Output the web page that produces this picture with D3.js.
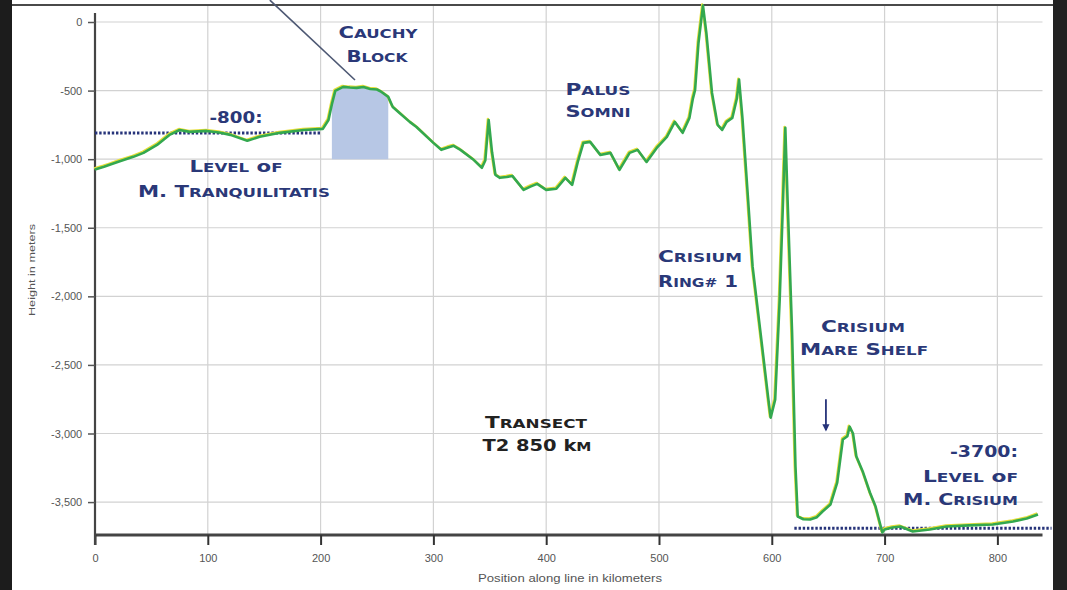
<!DOCTYPE html>
<html>
<head>
<meta charset="utf-8">
<script src="https://cdn.jsdelivr.net/npm/d3@7/dist/d3.min.js"></script>
<style>
  html, body { margin: 0; padding: 0; background: #fff; }
  svg { display: block; }
</style>
</head>
<body>
<svg id="chart" width="1067" height="590"></svg>
<script>
// ---------- data ----------
const positionsKm = [0, 8, 13, 22, 34, 43, 55, 66, 75, 84, 99, 110, 120, 135, 146, 164, 185, 202, 207, 210, 213, 220, 226, 232, 238, 244, 250, 254, 260, 264, 270, 279, 285, 300, 307, 313, 318, 324, 335, 343, 346, 349, 352, 355, 359, 365, 370, 380, 386, 392, 400, 409, 417, 423, 428, 433, 439, 448, 457, 465, 474, 481, 489, 498, 507, 514, 521, 527, 530, 532, 535, 539, 542, 547, 552, 556, 560, 565, 569, 571, 574, 579, 583, 590, 597, 599, 603, 607, 610, 612, 614, 618, 621, 623, 628, 634, 640, 645, 652, 658, 663, 667, 669, 672, 675, 681, 687, 692, 698, 700, 707, 714, 725, 740, 755, 775, 796, 814, 826, 836];
const heightsM = [-1075, -1055, -1041, -1015, -983, -954, -896, -823, -787, -801, -794, -805, -823, -866, -837, -808, -787, -779, -714, -600, -502, -473, -478, -480, -474, -488, -492, -510, -546, -619, -663, -728, -765, -881, -932, -915, -903, -932, -1000, -1063, -1010, -714, -950, -1114, -1136, -1130, -1122, -1224, -1200, -1180, -1224, -1216, -1136, -1187, -1020, -881, -874, -969, -954, -1078, -954, -932, -1020, -918, -838, -728, -808, -699, -560, -495, -153, 120, -80, -517, -750, -787, -728, -699, -560, -420, -700, -1296, -1784, -2265, -2753, -2884, -2753, -2025, -1296, -772, -1296, -2265, -3241, -3605, -3625, -3627, -3610, -3569, -3518, -3358, -3044, -3020, -2950, -3000, -3168, -3285, -3430, -3532, -3722, -3700, -3685, -3678, -3714, -3700, -3678, -3670, -3663, -3641, -3620, -3590];

const xTicks = [0, 100, 200, 300, 400, 500, 600, 700, 800];
const yTicks = [0, -500, -1000, -1500, -2000, -2500, -3000, -3500];

// reference levels
const levelTranquilitatis = { value: -810, from: 0, to: 201 };
const levelCrisium = { value: -3690, from: 620, to: 848 };
// Cauchy block shaded span
const cauchyBlock = { from: 208, to: 262, base: -1000 };
// pointer line toward Cauchy block (data coords)
const pointerLine = [[155, 160], [230.5, -423]];
// arrow toward mare shelf
const shelfArrow = [[648, -2750], [648, -2975]];

// ---------- scales ----------
const svg = d3.select('#chart');
const x = d3.scaleLinear().domain([0, 840]).range([95, 1042.5]);
const y = d3.scaleLinear().domain([-3740, 124]).range([535, 5]);

const root = svg.append('g');

// frame pieces
root.append('rect').attr('x', 0).attr('y', 0).attr('width', 12).attr('height', 590).attr('fill', '#1c1c1c');
root.append('rect').attr('x', 1053).attr('y', 0).attr('width', 14).attr('height', 590).attr('fill', '#222');

// grid
const grid = root.append('g');
grid.selectAll('line.h').data(yTicks).join('line')
  .attr('x1', x(0)).attr('x2', x(840)).attr('y1', d => y(d)).attr('y2', d => y(d))
  .attr('stroke', '#d2d2d2').attr('stroke-width', 1.2);
grid.selectAll('line.v').data(xTicks.slice(1)).join('line')
  .attr('x1', d => x(d)).attr('x2', d => x(d)).attr('y1', y(124)).attr('y2', y(-3740))
  .attr('stroke', '#d2d2d2').attr('stroke-width', 1.2);

// top border line
root.append('line').attr('x1', 12).attr('x2', 1053).attr('y1', 5).attr('y2', 5)
  .attr('stroke', '#4a4a4a').attr('stroke-width', 2);

// Cauchy block shading
const blockPts = positionsKm.map((k, i) => [k, heightsM[i]]).filter(p => p[0] >= cauchyBlock.from && p[0] <= cauchyBlock.to);
root.append('path')
  .datum(blockPts)
  .attr('d', d3.area().x(d => x(d[0])).y0(y(cauchyBlock.base)).y1(d => y(d[1])))
  .attr('fill', '#b7c7e5');

// axes
const xAxis = d3.axisBottom(x).tickValues(xTicks).tickSize(10).tickFormat(d3.format('d'));
const gx = root.append('g').attr('transform', `translate(0,${y(-3740)})`).call(xAxis);
gx.select('.domain').attr('stroke', '#444').attr('stroke-width', 3).attr('d', `M${x(0)},0H${x(840)}`);
gx.selectAll('.tick line').attr('stroke', '#333').attr('stroke-width', 2);
gx.selectAll('.tick text').attr('fill', '#555').attr('font-family', 'Liberation Sans, Arial, sans-serif')
  .attr('font-size', 11).attr('dy', '1.3em');

const fmtY = d => d3.format(',')(d).replace('\u2212', '-');
const yAxis = d3.axisLeft(y).tickValues(yTicks).tickSize(7).tickFormat(fmtY);
const gy = root.append('g').attr('transform', `translate(${x(0)},0)`).call(yAxis);
gy.select('.domain').attr('stroke', '#444').attr('stroke-width', 2.2).attr('d', `M0,${y(124) + 8}V${y(-3740) + 10}`);
gy.selectAll('.tick line').attr('stroke', '#555').attr('stroke-width', 1.5);
gy.selectAll('.tick text').attr('fill', '#555').attr('font-family', 'Liberation Sans, Arial, sans-serif')
  .attr('font-size', 11).attr('dx', '-0.25em');

// axis titles
root.append('text').attr('transform', `translate(35,270) rotate(-90)`)
  .attr('text-anchor', 'middle').attr('font-family', 'Liberation Sans, Arial, sans-serif')
  .attr('font-size', 9).attr('fill', '#555').attr('textLength', 92).attr('lengthAdjust', 'spacingAndGlyphs')
  .text('Height in meters');
root.append('text').attr('x', 570).attr('y', 582)
  .attr('text-anchor', 'middle').attr('font-family', 'Liberation Sans, Arial, sans-serif')
  .attr('font-size', 10).attr('fill', '#555').attr('textLength', 184).attr('lengthAdjust', 'spacingAndGlyphs')
  .text('Position along line in kilometers');

// level lines (dotted)
[levelTranquilitatis, levelCrisium].forEach(l => {
  root.append('line')
    .attr('x1', x(l.from)).attr('x2', x(l.to)).attr('y1', y(l.value)).attr('y2', y(l.value))
    .attr('stroke', '#27347a').attr('stroke-width', 3).attr('stroke-dasharray', '2.4,1.8');
});

// profile line
const profile = positionsKm.map((k, i) => [k, heightsM[i]]);
const line = d3.line().x(d => x(d[0])).y(d => y(d[1]));
root.append('path').datum(profile).attr('d', line)
  .attr('fill', 'none').attr('stroke', '#e6df3a').attr('stroke-width', 2.4)
  .attr('stroke-linejoin', 'round').attr('transform', 'translate(-0.8,-1)');
root.append('path').datum(profile).attr('d', line)
  .attr('fill', 'none').attr('stroke', '#33a84f').attr('stroke-width', 2.6)
  .attr('stroke-linejoin', 'round');

// pointer line to Cauchy block
root.append('line')
  .attr('x1', x(pointerLine[0][0])).attr('y1', y(pointerLine[0][1]))
  .attr('x2', x(pointerLine[1][0])).attr('y2', y(pointerLine[1][1]))
  .attr('stroke', '#4d5873').attr('stroke-width', 1.6);

// arrow to mare shelf
const defs = svg.append('defs');
defs.append('marker').attr('id', 'ah').attr('viewBox', '0 0 10 10').attr('refX', 8).attr('refY', 5)
  .attr('markerWidth', 4).attr('markerHeight', 4).attr('orient', 'auto')
  .append('path').attr('d', 'M0,0L10,5L0,10z').attr('fill', '#27347a');
root.append('line')
  .attr('x1', x(shelfArrow[0][0])).attr('y1', y(shelfArrow[0][1]))
  .attr('x2', x(shelfArrow[1][0])).attr('y2', y(shelfArrow[1][1]))
  .attr('stroke', '#27347a').attr('stroke-width', 1.8).attr('marker-end', 'url(#ah)');

// ---------- annotations (small caps style) ----------
const NAVY = '#2a3878';
function capsText(px, py, str, anchor, width, color) {
  const t = root.append('text').attr('x', px).attr('y', py).attr('text-anchor', anchor)
    .attr('fill', color).attr('font-family', 'DejaVu Sans, sans-serif').attr('font-weight', 'bold');
  const runs = [];
  for (let i = 0; i < str.length; i++) {
    const c = str[i];
    const prev = i === 0 ? ' ' : str[i - 1];
    const big = /[0-9\-:.]/.test(c) || (/[A-Za-z]/.test(c) && (prev === ' ' || prev === '.')) || c === ' ';
    const last = runs[runs.length - 1];
    if (last && last.big === big) last.s += c; else runs.push({ big, s: c });
  }
  runs.forEach(r => {
    t.append('tspan').attr('font-size', r.big ? 16 : 12.5).text(r.big ? r.s : r.s.toUpperCase());
  });
  if (width) t.attr('textLength', width).attr('lengthAdjust', 'spacingAndGlyphs');
  return t;
}

capsText(236, 123, '-800:', 'middle', 53, NAVY);
capsText(236, 172, 'Level of', 'middle', 93, NAVY);
capsText(234, 197, 'M. Tranquilitatis', 'middle', 192, NAVY);
capsText(378, 38, 'Cauchy', 'middle', 79, NAVY);
capsText(377, 62, 'Block', 'middle', 61, NAVY);
capsText(598, 95, 'Palus', 'middle', 65, NAVY);
capsText(598, 117, 'Somni', 'middle', 65, NAVY);
capsText(700, 262, 'Crisium', 'middle', 84, NAVY);
capsText(698, 287, 'Ring# 1', 'middle', 80, NAVY);
capsText(863, 332, 'Crisium', 'middle', 84, NAVY);
capsText(864, 355, 'Mare Shelf', 'middle', 128, NAVY);
capsText(1018, 457, '-3700:', 'end', 68, NAVY);
capsText(1018, 482, 'Level of', 'end', 95, NAVY);
capsText(1018, 505, 'M. Crisium', 'end', 115, NAVY);
capsText(536, 428, 'Transect', 'middle', 102, '#222');
capsText(537, 451, 'T2 850 km', 'middle', 109, '#222');
</script>
</body>
</html>
